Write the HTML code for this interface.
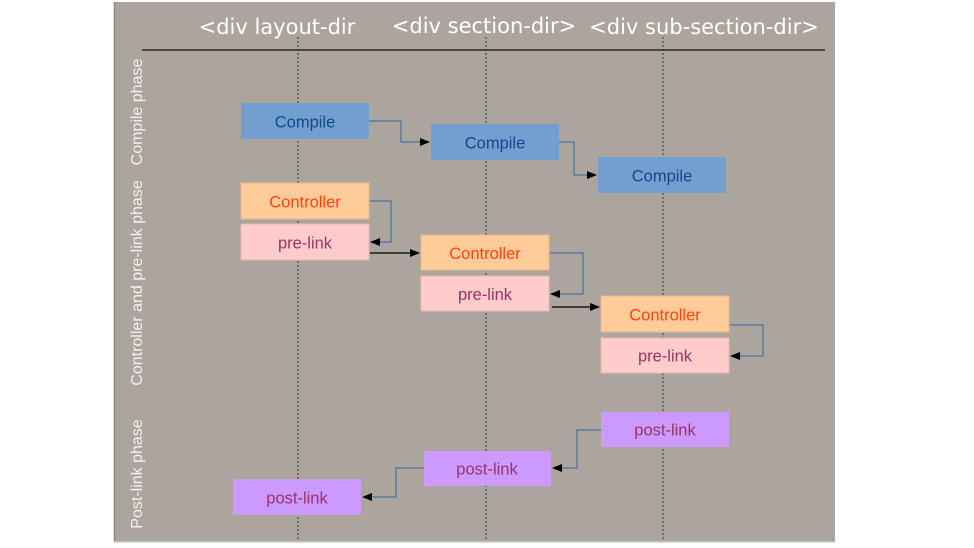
<!DOCTYPE html>
<html><head><meta charset="utf-8"><style>
html,body{margin:0;padding:0;background:#fff;width:974px;height:548px;overflow:hidden}
svg{display:block}
text{font-family:"Liberation Sans","DejaVu Sans",sans-serif}
</style></head><body>
<svg width="974" height="548" viewBox="0 0 974 548" xmlns="http://www.w3.org/2000/svg">
<defs>
<marker id="a" markerWidth="10" markerHeight="8" refX="9" refY="4" orient="auto" markerUnits="userSpaceOnUse">
<path d="M0,0 L10,4 L0,8 z" fill="#000"/></marker>
</defs>
<rect x="114" y="2" width="721" height="540" fill="#aba59e"/>
<line x1="114.5" y1="2" x2="114.5" y2="542" stroke="#8a857f" stroke-width="1.5"/>
<line x1="114" y1="542" x2="835" y2="542" stroke="#ccc" stroke-width="1.5"/>
<g fill="#fff" font-size="21" text-anchor="middle">
<text x="277" y="34" style="font-family:'DejaVu Sans',sans-serif">&lt;div layout-dir</text>
<text x="484" y="33" style="font-family:'DejaVu Sans',sans-serif">&lt;div section-dir&gt;</text>
<text x="704" y="34" style="font-family:'DejaVu Sans',sans-serif">&lt;div sub-section-dir&gt;</text>
</g>
<line x1="142" y1="50" x2="825" y2="50" stroke="#111" stroke-width="1.2"/>
<g stroke="#333" stroke-width="1" stroke-dasharray="2,2">
<line x1="298" y1="37" x2="298" y2="541"/>
<line x1="486" y1="37" x2="486" y2="541"/>
<line x1="663" y1="37" x2="663" y2="541"/>
</g>
<g fill="#f2f2f2" font-size="16" text-anchor="middle">
<text transform="translate(142,112) rotate(-90)">Compile phase</text>
<text transform="translate(142,283) rotate(-90)">Controller and pre-link phase</text>
<text transform="translate(142,474) rotate(-90)">Post-link phase</text>
</g>
<g fill="none" stroke="#4a72a8" stroke-width="1.3">
<polyline points="369,121 401,121 401,142 429,142" marker-end="url(#a)"/>
<polyline points="559,142 574,142 574,175 596,175" marker-end="url(#a)"/>
<polyline points="369,201 391,201 391,242 371,242" marker-end="url(#a)"/>
<polyline points="549,253 583,253 583,294 551,294" marker-end="url(#a)"/>
<polyline points="729,325 763,325 763,356 731,356" marker-end="url(#a)"/>
<polyline points="601,430 577,430 577,468 553,468" marker-end="url(#a)"/>
<polyline points="424,468 396,468 396,497 363,497" marker-end="url(#a)"/>
</g>
<g stroke="#000" stroke-width="1.3">
<line x1="370" y1="253" x2="419" y2="253" marker-end="url(#a)"/>
<line x1="552" y1="307" x2="599" y2="307" marker-end="url(#a)"/>
</g>
<g font-size="16.5" text-anchor="middle">
<rect x="241" y="103" width="128" height="36" fill="#729fcf"/><text x="305" y="127.5" fill="#0e4a8a">Compile</text>
<rect x="431" y="124" width="128" height="36" fill="#729fcf"/><text x="495" y="148.5" fill="#0e4a8a">Compile</text>
<rect x="598" y="157" width="128" height="36" fill="#729fcf"/><text x="662" y="181.5" fill="#0e4a8a">Compile</text>
<rect x="241" y="183" width="128" height="36" fill="#ffcc99" stroke="#e8b890"/><text x="305" y="207.5" fill="#ff420e">Controller</text>
<rect x="241" y="224" width="128" height="36" fill="#ffcccc" stroke="#e8b8b0"/><text x="305" y="248.5" fill="#993366">pre-link</text>
<rect x="421" y="235" width="128" height="35" fill="#ffcc99" stroke="#e8b890"/><text x="485" y="259" fill="#ff420e">Controller</text>
<rect x="421" y="276" width="128" height="35" fill="#ffcccc" stroke="#e8b8b0"/><text x="485" y="300" fill="#993366">pre-link</text>
<rect x="601" y="296" width="128" height="36" fill="#ffcc99" stroke="#e8b890"/><text x="665" y="320.5" fill="#ff420e">Controller</text>
<rect x="601" y="338" width="128" height="35" fill="#ffcccc" stroke="#e8b8b0"/><text x="665" y="361.5" fill="#993366">pre-link</text>
<rect x="601" y="412" width="128" height="35" fill="#cc99ff"/><text x="665" y="435.5" fill="#993366">post-link</text>
<rect x="424" y="451" width="127" height="35" fill="#cc99ff"/><text x="487" y="474.5" fill="#993366">post-link</text>
<rect x="233" y="479" width="128" height="36" fill="#cc99ff"/><text x="297" y="503.5" fill="#993366">post-link</text>
</g>
</svg>
</body></html>
